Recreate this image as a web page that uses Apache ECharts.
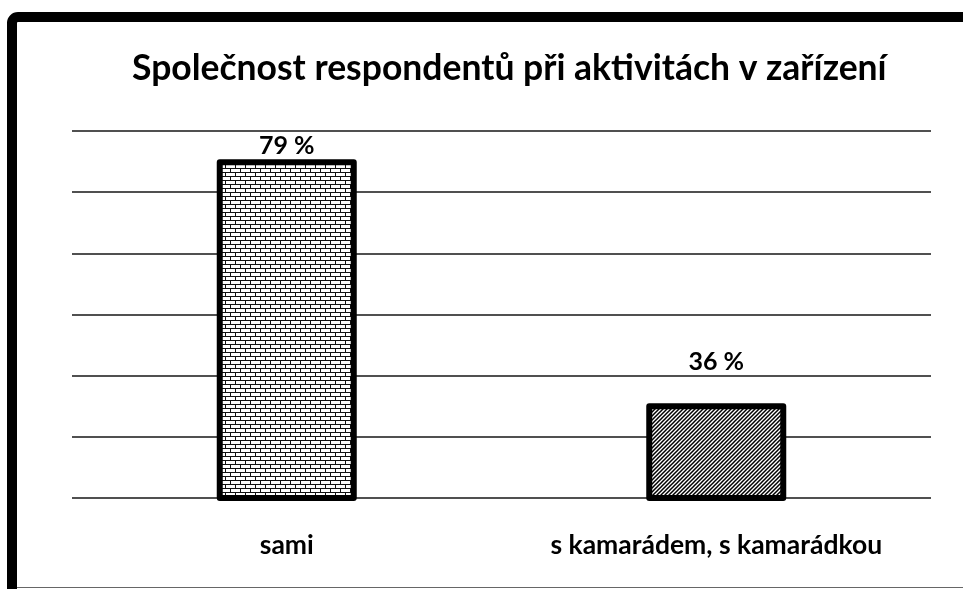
<!DOCTYPE html>
<html>
<head>
<meta charset="utf-8">
<script src="https://cdn.jsdelivr.net/npm/echarts@6/dist/echarts.min.js"></script>
<style>
  html, body { margin: 0; padding: 0; background: #fff; }
  #chart { width: 963px; height: 589px; }
</style>
</head>
<body>
<div id="chart"></div>
<script>
(function(){
    // data
    const categories = ['sami', 's kamarádem, s kamarádkou'];
    const values = [79, 36];
    const labelDistance = [1, 29];

    // fill patterns for the bars
    function brickPattern(){
        const c = document.createElement('canvas');
        c.width = 10; c.height = 8;
        const g = c.getContext('2d');
        g.fillStyle = '#fff';
        g.fillRect(0, 0, 10, 8);
        g.fillStyle = '#111';
        g.fillRect(0, 0, 10, 1);
        g.fillRect(0, 4, 10, 1);
        g.fillRect(0, 0, 1, 4);
        g.fillRect(5, 4, 1, 4);
        return c;
    }
    function hatchPattern(){
        const c = document.createElement('canvas');
        c.width = 4; c.height = 4;
        const g = c.getContext('2d');
        g.fillStyle = '#fff';
        g.fillRect(0, 0, 4, 4);
        g.strokeStyle = '#000';
        g.lineWidth = 1.5;
        g.beginPath();
        g.moveTo(-1, 5); g.lineTo(5, -1);
        g.moveTo(-3, 3); g.lineTo(3, -3);
        g.moveTo(1, 7); g.lineTo(7, 1);
        g.stroke();
        return c;
    }
    const fills = [brickPattern(), hatchPattern()];

    const font = 'Lato, "Open Sans", sans-serif';

    let myChart = echarts.init(document.getElementById('chart'));
    let options = {
        backgroundColor: '#fff',
        animation: false,
        title: {
            text: 'Společnost respondentů při aktivitách v zařízení',
            left: 127,
            top: 46,
            textStyle: { fontFamily: font, fontWeight: 'bold', fontSize: 35.5, color: '#000' }
        },
        graphic: [
            {
                type: 'rect',
                shape: { x: 12, y: 17, width: 1100, height: 700, r: 6 },
                style: { fill: 'none', stroke: '#000', lineWidth: 10 },
                silent: true
            },
            {
                type: 'line',
                shape: { x1: 17, y1: 587.5, x2: 963, y2: 587.5 },
                style: { stroke: '#666', lineWidth: 1 },
                silent: true
            }
        ],
        grid: { left: 72, right: 32, top: 131, bottom: 91 },
        xAxis: {
            type: 'category',
            data: categories,
            axisLine: { show: false },
            axisTick: { show: false },
            axisLabel: {
                interval: 0,
                margin: 34,
                fontFamily: font, fontWeight: 'bold', fontSize: 26.5, color: '#000'
            }
        },
        yAxis: [
            {
                // value scale of the bars
                type: 'value',
                min: 19.3,
                max: 84,
                show: false,
                splitLine: { show: false }
            },
            {
                // horizontal gridlines
                type: 'value',
                min: 0,
                max: 6,
                interval: 1,
                axisLine: { show: false },
                axisTick: { show: false },
                axisLabel: { show: false },
                splitLine: { lineStyle: { color: '#505050', width: 2 } }
            }
        ],
        series: [{
            type: 'bar',
            yAxisIndex: 0,
            barWidth: 140,
            data: values.map(function(v, i){
                return {
                    value: v,
                    itemStyle: { color: { image: fills[i], repeat: 'repeat' } },
                    label: { distance: labelDistance[i] }
                };
            }),
            itemStyle: { borderColor: '#000', borderWidth: 6, borderJoin: 'round' },
            label: {
                show: true,
                position: 'top',
                formatter: '{c} %',
                fontFamily: font, fontWeight: 'bold', fontSize: 25, color: '#000'
            }
        }]
    };
    myChart.setOption(options);
})();
</script>
</body>
</html>
